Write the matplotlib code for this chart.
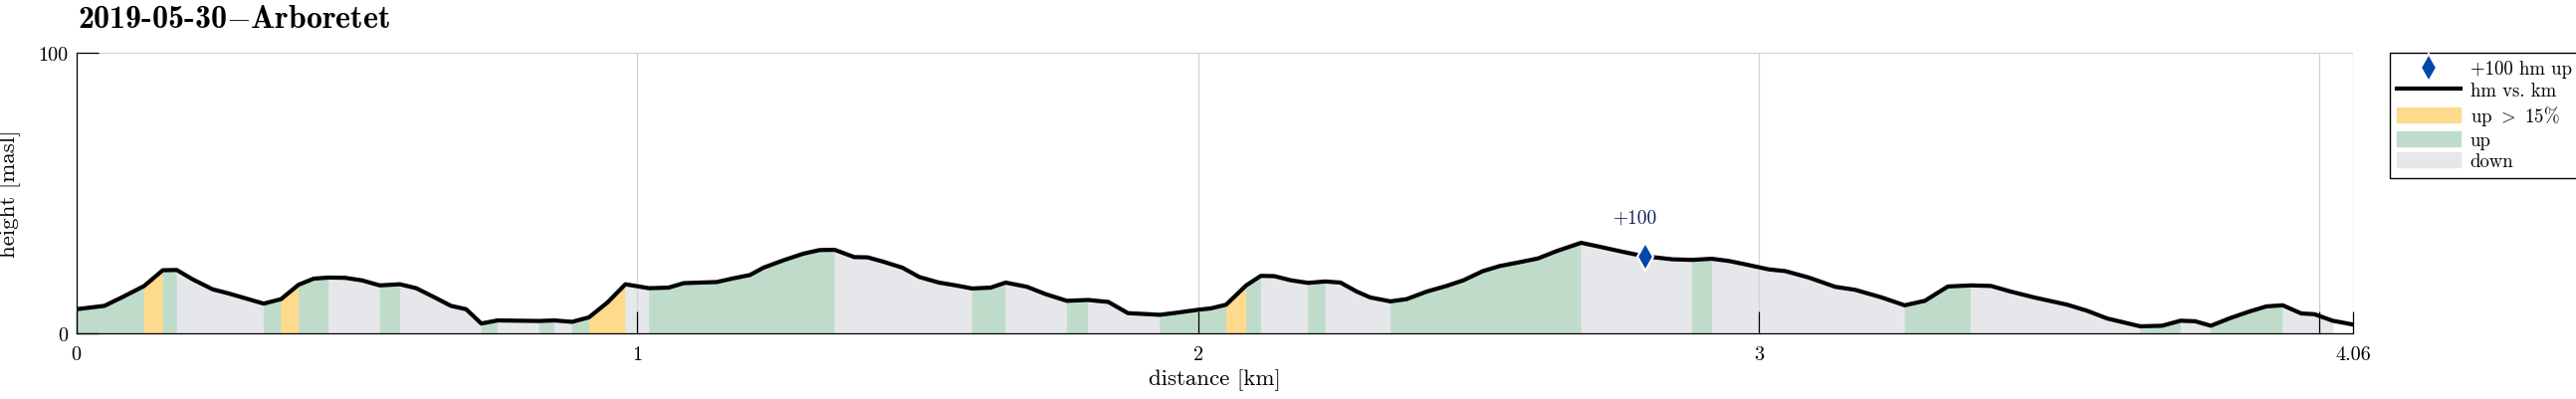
import numpy as np
import matplotlib
matplotlib.use('Agg')
import matplotlib.pyplot as plt
from matplotlib.patches import Patch
from matplotlib.lines import Line2D

plt.rcParams['font.family'] = 'serif'
plt.rcParams['font.serif'] = ['cmr10']
plt.rcParams['mathtext.fontset'] = 'cm'
plt.rcParams['axes.unicode_minus'] = False

# elevation profile (km, m)
dist_km = [0.000, 0.050, 0.083, 0.121, 0.154, 0.179, 0.207, 0.243, 0.272, 0.334,
           0.365, 0.396, 0.423, 0.450, 0.479, 0.509, 0.541, 0.577, 0.606, 0.639,
           0.668, 0.695, 0.722, 0.751, 0.825, 0.852, 0.884, 0.914, 0.947, 0.979,
           1.021, 1.056, 1.083, 1.142, 1.171, 1.201, 1.225, 1.260, 1.296, 1.325,
           1.352, 1.387, 1.411, 1.438, 1.473, 1.503, 1.538, 1.568, 1.597, 1.630,
           1.657, 1.695, 1.728, 1.766, 1.804, 1.840, 1.875, 1.932, 1.964, 2.000,
           2.023, 2.050, 2.086, 2.112, 2.136, 2.166, 2.196, 2.227, 2.254, 2.283,
           2.307, 2.343, 2.372, 2.408, 2.443, 2.473, 2.508, 2.538, 2.574, 2.606,
           2.639, 2.683, 2.716, 2.757, 2.798, 2.819, 2.846, 2.881, 2.916, 2.947,
           2.976, 3.018, 3.047, 3.089, 3.136, 3.172, 3.219, 3.260, 3.296, 3.337,
           3.378, 3.414, 3.449, 3.491, 3.550, 3.586, 3.621, 3.680, 3.719, 3.752,
           3.778, 3.806, 3.840, 3.875, 3.905, 3.934, 3.967, 3.991, 4.023, 4.060]
height_m = [8.5, 9.7, 12.9, 16.8, 22.4, 22.5, 19.2, 15.6, 14.1, 10.5,
            12.1, 17.2, 19.4, 19.8, 19.7, 18.8, 17.0, 17.4, 16.0, 12.7,
            9.7, 8.5, 3.4, 4.5, 4.3, 4.5, 4.0, 5.6, 10.9, 17.4,
            16.0, 16.2, 17.8, 18.2, 19.5, 20.7, 23.3, 25.9, 28.3, 29.6,
            29.7, 27.1, 27.0, 25.5, 23.3, 20.0, 18.0, 17.0, 15.9, 16.2,
            18.0, 16.5, 13.9, 11.5, 11.8, 11.1, 7.1, 6.5, 7.3, 8.3,
            8.8, 10.1, 17.0, 20.4, 20.3, 18.8, 17.9, 18.4, 18.0, 14.8,
            12.7, 11.3, 12.1, 14.8, 16.8, 18.8, 22.1, 23.9, 25.3, 26.6,
            29.2, 32.2, 30.8, 29.0, 27.3, 26.9, 26.3, 26.1, 26.5, 25.7,
            24.5, 22.7, 22.1, 19.8, 16.5, 15.4, 12.7, 9.9, 11.5, 16.6,
            17.0, 16.8, 14.8, 12.7, 10.1, 7.9, 5.2, 2.4, 2.6, 4.4,
            4.2, 2.6, 5.3, 7.7, 9.5, 9.9, 7.0, 6.7, 4.4, 3.0]

# where the climbed metres pass +100
mark_km = [2.798]
mark_h = [27.3]
mark_text = ['+100']

xticks = [0, 1, 2, 3, 4, 4.06]
xticklabels = ['0', '1', '2', '3', '', '4.06']

col_steep = '#FDDA8C'
col_up = '#BFDCCB'
col_down = '#E6E7EB'

fig = plt.figure(figsize=(25.88, 4.02), dpi=100)
ax = fig.add_axes([0.02964, 0.16493, 0.88392, 0.70074])

# colour every segment by its grade
x = np.array(dist_km)
h = np.array(height_m)
for i in range(len(x) - 2):
    grade = (h[i + 1] - h[i]) / ((x[i + 1] - x[i]) * 1000)
    if grade > 0.15:
        c = col_steep
    elif grade > 0:
        c = col_up
    else:
        c = col_down
    ax.fill_between(x[i:i + 2], h[i:i + 2], color=c, lw=0.6, zorder=1)

ax.plot(x, h, color='black', lw=3.0, zorder=2)
ax.plot(mark_km, mark_h, 'd', color='#0047AB', ms=14, mec='white', mew=1.5, zorder=3)
for xm, hm, t in zip(mark_km, mark_h, mark_text):
    ax.text(xm - 0.018, hm + 14, t, ha='center', va='center', fontsize=14, color='#14215e')

ax.set_xlim(0, 4.06)
ax.set_ylim(0, 100)
ax.set_xticks(xticks)
ax.set_xticklabels(xticklabels)
ax.set_yticks([0, 100])
ax.tick_params(direction='in', length=16, width=0.9, labelsize=14.5)
ax.tick_params(axis='x', pad=9)
ax.tick_params(axis='y', pad=6)
ax.grid(True, color='#d2d2d2', lw=0.9)
ax.spines['top'].set_visible(False)
ax.spines['right'].set_visible(False)
ax.spines['left'].set_linewidth(0.9)
ax.spines['bottom'].set_linewidth(0.9)

ax.set_xlabel('distance [km]', fontsize=16.5)
ax.set_ylabel('height [masl]', fontsize=16.5)
ax.xaxis.set_label_coords(0.5, -0.125)
ax.yaxis.set_label_coords(-0.0245, 0.5)

fig.text(0.0301, 1 - 28.5 / 402, '2019-05-30$-$Arboretet', fontsize=23,
         family='cmb10', ha='left', va='baseline')

handles = [Line2D([], [], marker='d', ls='none', color='#0047AB', ms=14, mec='white', mew=1.5),
           Line2D([], [], color='black', lw=3.0),
           Patch(color=col_steep), Patch(color=col_up), Patch(color=col_down)]
labels = ['+100 hm up', 'hm vs. km', 'up $>$ 15%', 'up', 'down']
leg = fig.legend(handles, labels, loc='upper left', bbox_to_anchor=(0.9277, 0.8657),
                 fontsize=13.5, frameon=True, fancybox=False, edgecolor='black',
                 framealpha=1, borderaxespad=0, handlelength=3.4, handleheight=0.85,
                 labelspacing=0.2, handletextpad=0.5, borderpad=0.4)
leg.get_frame().set_linewidth(1.0)

fig.savefig('out.png', dpi=100)
